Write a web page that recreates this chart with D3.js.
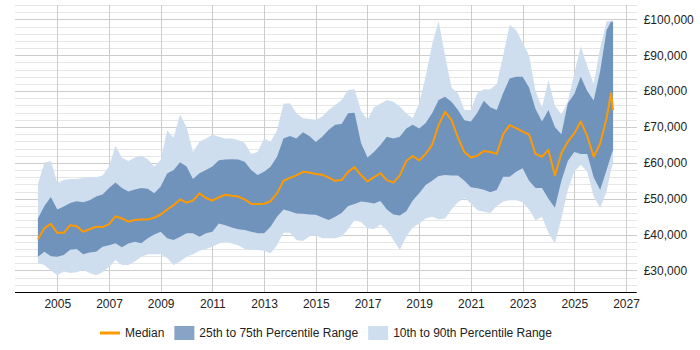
<!DOCTYPE html>
<html>
<head>
<meta charset="utf-8">
<style>
  body { margin: 0; background: #fff; }
  svg { display: block; font-family: "Liberation Sans", Arial, sans-serif; }
</style>
</head>
<body>
<svg id="chart" width="700" height="350"></svg>
<script src="https://d3js.org/d3.v7.min.js"></script>
<script>
// sample dates (decimal years) and salary percentiles in £k
const years = [2004.25, 2004.5, 2004.75, 2005, 2005.25, 2005.5, 2005.75, 2006, 2006.25, 2006.5, 2006.75,
  2007, 2007.25, 2007.5, 2007.75, 2008, 2008.25, 2008.5, 2008.75, 2009, 2009.25, 2009.5, 2009.75,
  2010, 2010.25, 2010.5, 2010.75, 2011, 2011.25, 2011.5, 2011.75, 2012, 2012.25, 2012.5, 2012.75,
  2013, 2013.25, 2013.5, 2013.75, 2014, 2014.25, 2014.5, 2014.75, 2015, 2015.25, 2015.5, 2015.75,
  2016, 2016.25, 2016.5, 2016.75, 2017, 2017.25, 2017.5, 2017.75, 2018, 2018.25, 2018.5, 2018.75,
  2019, 2019.25, 2019.5, 2019.75, 2020, 2020.25, 2020.5, 2020.75, 2021, 2021.25, 2021.5, 2021.75,
  2022, 2022.25, 2022.5, 2022.75, 2023, 2023.25, 2023.5, 2023.75, 2024, 2024.25, 2024.5, 2024.75,
  2025, 2025.25, 2025.5, 2025.75, 2026, 2026.25, 2026.42, 2026.5];

const p10 = [32.0, 31.5, 30.0, 28.7, 29.7, 29.3, 29.5, 30.1, 29.3, 28.7, 29.5,
  31.0, 32.9, 31.5, 31.5, 32.5, 33.8, 34.5, 34.5, 34.5, 33.5, 31.5, 32.5,
  33.8, 34.5, 35.5, 36.0, 36.6, 37.5, 38.0, 37.5, 37.0, 36.0, 35.7, 35.7,
  35.5, 34.8, 37.0, 40.5, 40.5, 38.5, 38.2, 39.5, 39.8, 39.0, 39.0, 39.0,
  39.5, 41.5, 44.0, 43.5, 41.8, 41.5, 42.8, 41.3, 38.5, 35.7, 39.5, 42.0,
  43.1, 44.5, 45.0, 44.3, 44.5, 47.0, 49.0, 50.2, 48.7, 46.8, 46.4, 46.0,
  48.0, 49.2, 49.6, 49.6, 49.0, 47.0, 44.0, 45.0, 40.5, 37.5, 44.5, 52.5,
  57.5, 59.5, 57.5, 50.6, 47.5, 52.0, 58.0, 59.8];

const p25 = [33.8, 35.2, 34.0, 33.8, 34.3, 35.8, 36.0, 34.5, 35.0, 35.2, 36.6,
  37.0, 37.6, 36.5, 37.5, 38.0, 37.6, 39.0, 40.0, 40.8, 39.0, 38.5, 39.4,
  40.4, 40.4, 39.4, 40.4, 40.8, 43.1, 42.6, 42.0, 41.5, 41.3, 40.8, 40.4,
  40.4, 42.2, 45.0, 47.0, 46.5, 45.9, 45.8, 45.6, 45.5, 44.8, 44.1, 45.0,
  46.0, 48.0, 48.5, 49.2, 49.0, 48.7, 49.4, 47.0, 45.6, 45.3, 46.5, 49.5,
  51.5, 53.8, 55.0, 56.3, 56.6, 56.5, 56.5, 55.0, 53.2, 52.9, 52.5, 51.8,
  52.4, 56.1, 56.1, 57.5, 58.5, 55.0, 53.0, 53.0, 50.0, 47.5, 55.0, 60.5,
  63.0, 62.5, 62.5, 56.0, 52.4, 58.0, 62.0, 63.6];

const median = [38.8, 41.8, 43.0, 40.5, 40.5, 42.6, 42.3, 40.8, 41.5, 42.2, 42.1,
  42.9, 45.1, 44.5, 43.6, 44.1, 44.2, 44.2, 44.7, 45.6, 47.0, 48.2, 49.8,
  48.9, 49.5, 51.5, 50.2, 49.5, 50.4, 51.1, 50.8, 50.6, 49.8, 48.6, 48.5,
  48.6, 49.3, 51.5, 55.0, 55.8, 56.5, 57.5, 57.3, 56.9, 56.7, 55.9, 55.0,
  55.2, 57.5, 58.8, 56.6, 54.8, 56.0, 57.1, 55.2, 54.5, 56.5, 60.5, 61.9,
  60.7, 62.5, 65.0, 70.5, 74.2, 72.0, 67.0, 63.0, 61.5, 62.0, 63.3, 63.0,
  62.5, 68.0, 70.5, 69.7, 68.7, 67.9, 62.5, 61.7, 63.6, 56.5, 62.7, 65.9,
  68.2, 71.5, 67.5, 61.7, 65.4, 72.5, 79.4, 74.7];

const p75 = [44.5, 48.0, 50.5, 47.0, 47.8, 48.8, 49.3, 49.0, 49.6, 50.6, 51.2,
  53.0, 54.5, 53.0, 52.0, 52.6, 53.0, 52.8, 51.5, 53.4, 57.0, 58.0, 60.2,
  59.0, 55.5, 57.1, 58.0, 59.0, 60.7, 60.9, 61.0, 60.9, 60.3, 58.0, 56.6,
  57.5, 58.9, 61.7, 66.8, 67.5, 66.8, 68.5, 67.5, 65.8, 67.3, 69.2, 70.6,
  70.8, 73.8, 74.0, 65.5, 61.5, 63.0, 65.0, 67.3, 66.8, 67.3, 69.6, 70.6,
  69.6, 71.1, 73.8, 77.5, 78.4, 77.0, 74.7, 71.9, 71.5, 74.0, 77.3, 75.5,
  74.7, 79.5, 83.5, 84.0, 84.0, 81.0, 75.0, 71.5, 74.7, 70.0, 68.0, 76.6,
  79.2, 84.0, 80.0, 77.4, 85.5, 97.0, 99.3, 99.3];

const p90 = [54.0, 60.0, 60.5, 54.4, 55.2, 55.5, 55.5, 55.8, 56.0, 56.0, 56.5,
  59.0, 64.8, 61.4, 60.5, 61.5, 62.0, 61.0, 59.0, 60.8, 69.0, 67.0, 73.5,
  70.0, 63.0, 65.9, 66.8, 67.8, 67.3, 66.8, 66.8, 66.4, 65.5, 62.5, 63.0,
  66.8, 65.9, 69.0, 76.5, 76.6, 73.8, 72.5, 72.2, 72.0, 72.9, 74.7, 76.1,
  77.5, 80.3, 80.5, 74.5, 72.0, 75.5, 76.5, 77.5, 77.0, 75.7, 73.8, 72.4,
  76.6, 84.0, 93.0, 99.5, 90.0, 81.0, 79.4, 74.7, 74.7, 79.5, 80.5, 80.5,
  82.0, 90.0, 98.5, 97.0, 93.5, 90.0, 80.0, 75.5, 83.0, 76.0, 73.5, 77.0,
  85.0, 92.5, 87.0, 82.0, 92.0, 99.5, 99.6, 99.7];

const yearTicks = [2005, 2007, 2009, 2011, 2013, 2015, 2017, 2019, 2021, 2023, 2025, 2027];
const salaryTicks = [30000, 40000, 50000, 60000, 70000, 80000, 90000, 100000];
const legendLabels = ["Median", "25th to 75th Percentile Range", "10th to 90th Percentile Range"];

const colLight = "#cfdeee", colDark = "#7093bb", colDarkKey = "#87a4c6", colMedian = "#ff9900";

const rows = years.map((t, i) => ({
  t: t, p10: p10[i] * 1000, p25: p25[i] * 1000, med: median[i] * 1000,
  p75: p75[i] * 1000, p90: p90[i] * 1000
}));

const svg = d3.select("#chart");
const plotL = 15, plotR = 636.7, plotT = 5, plotB = 292;

const x = d3.scaleLinear().domain([2003.364, 2027.414]).range([plotL, plotR]);
const y = d3.scaleLinear().domain([24000, 104000]).range([plotB, plotT]);

// grid
const grid = svg.append("g").attr("shape-rendering", "crispEdges");
grid.selectAll("line.minor")
  .data(d3.range(24000, 104001, 2000))
  .join("line")
    .attr("x1", plotL).attr("x2", plotR)
    .attr("y1", d => Math.round(y(d)) + 0.5).attr("y2", d => Math.round(y(d)) + 0.5)
    .attr("stroke", d => d % 10000 === 0 ? "#cccccc" : "#e6e6e6");
grid.selectAll("line.vert")
  .data(yearTicks)
  .join("line")
    .attr("x1", d => Math.round(x(d)) + 0.5).attr("x2", d => Math.round(x(d)) + 0.5)
    .attr("y1", plotT).attr("y2", plotB)
    .attr("stroke", "#cccccc");

// bands
svg.append("path")
  .datum(rows)
  .attr("fill", colLight)
  .attr("d", d3.area().x(d => x(d.t)).y0(d => y(d.p10)).y1(d => y(d.p90)));
svg.append("path")
  .datum(rows)
  .attr("fill", colDark)
  .attr("d", d3.area().x(d => x(d.t)).y0(d => y(d.p25)).y1(d => y(d.p75)));

// median
svg.append("path")
  .datum(rows)
  .attr("fill", "none")
  .attr("stroke", colMedian)
  .attr("stroke-width", 2)
  .attr("stroke-linejoin", "round")
  .attr("d", d3.line().x(d => x(d.t)).y(d => y(d.med)));

// axes
const xAxis = svg.append("g")
  .attr("transform", `translate(0,${plotB})`)
  .call(d3.axisBottom(x).tickValues(yearTicks).tickFormat(d3.format("d")).tickSize(0).tickPadding(7));
xAxis.select(".domain").attr("stroke", "#000").attr("d", `M${plotL},0.5H${plotR}`);
xAxis.selectAll("text").attr("font-size", 12).attr("fill", "#222");
xAxis.attr("font-family", null);

const yAxis = svg.append("g")
  .attr("transform", `translate(${plotR},0)`)
  .call(d3.axisRight(y).tickValues(salaryTicks).tickFormat(d => "£" + d3.format(",")(d)).tickSize(0).tickPadding(7));
yAxis.select(".domain").remove();
yAxis.selectAll("text").attr("font-size", 12).attr("fill", "#222");
yAxis.attr("font-family", null);

// legend
const legend = svg.append("g").attr("transform", "translate(100,333)");
let lx = 0;
legendLabels.forEach((label, i) => {
  const g = legend.append("g").attr("transform", `translate(${lx},0)`);
  if (i === 0) {
    g.append("line").attr("x1", 0).attr("x2", 20).attr("y1", 0).attr("y2", 0)
      .attr("stroke", colMedian).attr("stroke-width", 3);
  } else {
    g.append("rect").attr("x", 0).attr("y", -7).attr("width", 20).attr("height", 14)
      .attr("fill", i === 1 ? colDarkKey : colLight);
  }
  const txt = g.append("text").attr("x", 25).attr("dy", "0.35em")
    .attr("font-size", 12).attr("fill", "#222").text(label);
  lx += 25 + txt.node().getComputedTextLength() + 10;
});
</script>
</body>
</html>
